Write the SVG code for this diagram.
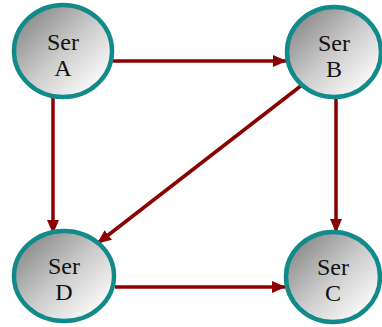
<svg xmlns="http://www.w3.org/2000/svg" width="382" height="327" viewBox="0 0 382 327">
<defs>
<linearGradient id="g" x1="0.1" y1="0.1" x2="0.9" y2="0.9">
<stop offset="0" stop-color="#888888"/>
<stop offset="0.5" stop-color="#cbcbcb"/>
<stop offset="1" stop-color="#ffffff"/>
</linearGradient>
<marker id="ah" markerWidth="14" markerHeight="12" refX="13" refY="6" orient="auto" markerUnits="userSpaceOnUse">
<path d="M0,0 L14,6 L0,12 Z" fill="#8b0000"/>
</marker>
<style>
.n ellipse{fill:url(#g);stroke:#128a8a;stroke-width:4.5}
.n text{font-family:"Liberation Serif",serif;font-size:24px;fill:#111;text-anchor:middle}
.c line{stroke:#8b0000;stroke-width:3.5;marker-end:url(#ah)}
</style>
</defs>
<g id="connectors" class="c">
<line x1="113" y1="61" x2="286" y2="61"/>
<line x1="53" y1="97" x2="53" y2="233"/>
<line x1="336" y1="97" x2="336" y2="232"/>
<line x1="115" y1="287" x2="285" y2="287"/>
<line x1="302" y1="85" x2="98" y2="243"/>
</g>
<g id="nodeA" class="n">
<ellipse cx="63" cy="51" rx="49" ry="46"/>
<text x="63" y="50">Ser</text>
<text x="63" y="76">A</text>
</g>
<g id="nodeB" class="n">
<ellipse cx="334" cy="52" rx="47" ry="45"/>
<text x="334" y="51">Ser</text>
<text x="334" y="77">B</text>
</g>
<g id="nodeD" class="n">
<ellipse cx="64" cy="276" rx="50" ry="45"/>
<text x="64" y="274">Ser</text>
<text x="64" y="300">D</text>
</g>
<g id="nodeC" class="n">
<ellipse cx="333" cy="277" rx="47" ry="45"/>
<text x="333" y="275">Ser</text>
<text x="333" y="301">C</text>
</g>
</svg>
